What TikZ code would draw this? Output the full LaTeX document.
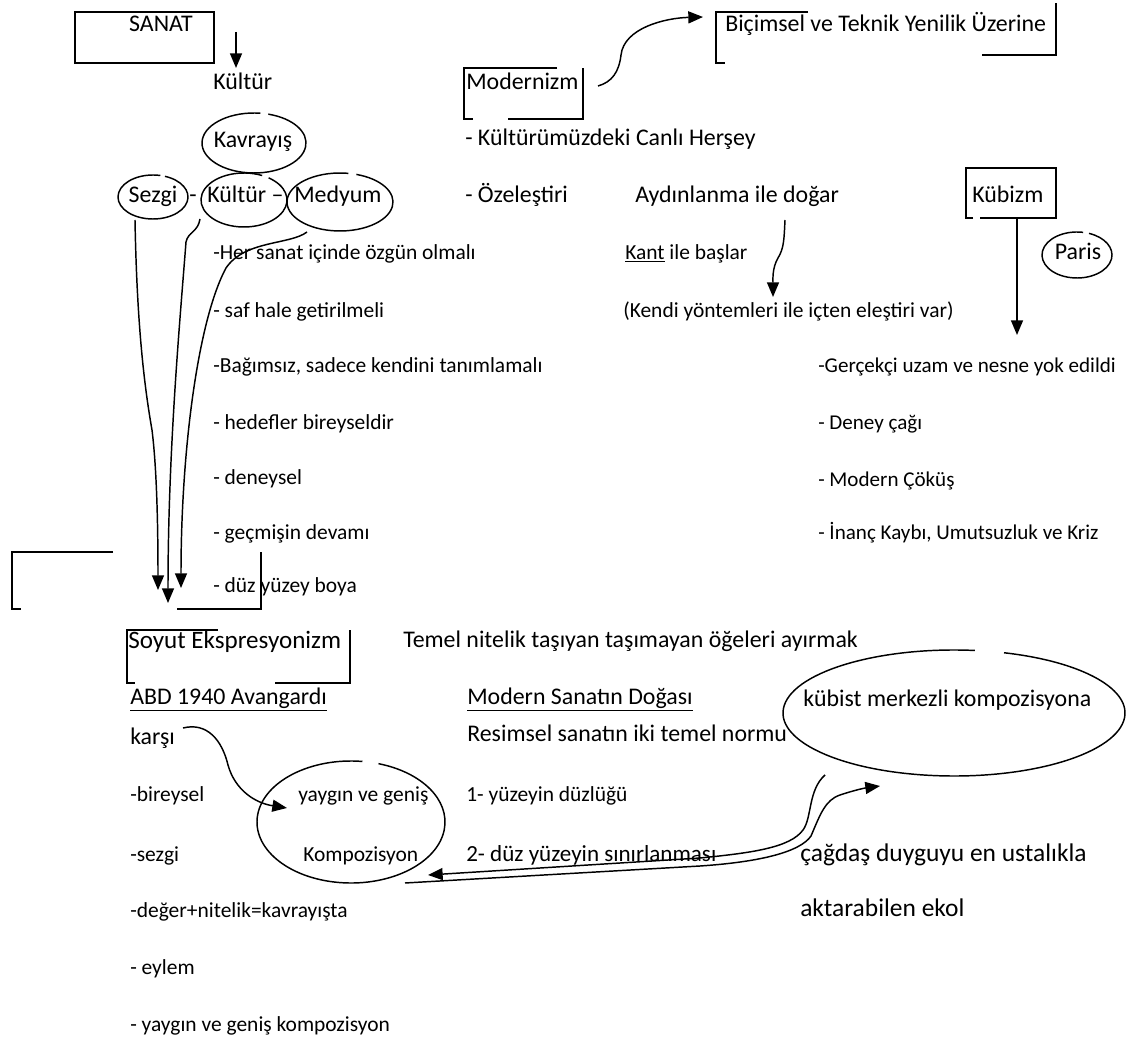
\documentclass[tikz,border=0pt]{standalone}
\usepackage{fontspec}
\setmainfont{Carlito}
\usetikzlibrary{arrows.meta,shapes.geometric}
\newcommand\gapell[5]{%
  \draw[ln] (#1) ++(#5:{#2*0.75pt} and {#3*0.75pt}) arc[start angle=#5, end angle={#4+360}, x radius={#2*0.75pt}, y radius={#3*0.75pt}];}
\begin{document}
\begin{tikzpicture}[x=0.75pt,y=-0.75pt,
  txt/.style={anchor=west, inner sep=0pt, text height=0.75em, text depth=0.1em, font=\fontsize{16.1}{19}\selectfont},
  small/.style={txt, font=\fontsize{15.8}{19}\selectfont},
  big/.style={txt, font=\fontsize{17.9}{21}\selectfont},
  huge/.style={txt, font=\fontsize{18.8}{22}\selectfont},
  ctr/.style={anchor=center},
  ln/.style={line width=1.1pt, black},
  arr/.style={ln, -{Triangle[length=11pt,width=9pt]}},
]
\useasboundingbox (0,0) rectangle (1128,1044);

% ---------- texts ----------
\node[big,ctr] (sanat) at (161,27) {SANAT};
\node[big] (kultur) at (213,85) {Kültür};
\node[big] (modernizm) at (466,85) {Modernizm};
\node[big] (bicimsel) at (725,27) {Biçimsel ve Teknik Yenilik Üzerine};
\node[big,ctr] (kavrayis) at (253,143) {Kavrayış};
\node[big] (canli) at (465,141) {- Kültürümüzdeki Canlı Herşey};
\node[big,ctr] (sezgi) at (153,198) {Sezgi};
\node[big] (dash) at (189,198) {-};
\node[big] (kultur2) at (207,198) {Kültür –};
\node[big] (medyum) at (294,198) {Medyum};
\node[big] (ozel) at (465,198) {- Özeleştiri};
\node[big] (aydin) at (635,198) {Aydınlanma ile doğar};
\node[big] (kubizm) at (972,198) {Kübizm};
\node[txt] (her) at (213,255) {-Her sanat içinde özgün olmalı};
\node[txt] (kant) at (625,255) {\underline{Kant} ile başlar};
\node[big,ctr] (paris) at (1078,255) {Paris};
\node[txt] (saf) at (213,313) {- saf hale getirilmeli};
\node[txt] (kendi) at (623,313) {(Kendi yöntemleri ile içten eleştiri var)};
\node[txt] (bagimsiz) at (213,368) {-Bağımsız, sadece kendini tanımlamalı};
\node[small] (gercekci) at (818,368) {-Gerçekçi uzam ve nesne yok edildi};
\node[txt] (hedefler) at (213,425) {- hedefler bireyseldir};
\node[small] (deney) at (818,425) {- Deney çağı};
\node[txt] (deneysel) at (213,480) {- deneysel};
\node[small] (cokus) at (818,482) {- Modern Çöküş};
\node[txt] (gecmis) at (213,535) {- geçmişin devamı};
\node[small] (inanc) at (818,535) {- İnanç Kaybı, Umutsuzluk ve Kriz};
\node[txt] (duz) at (213,588) {- düz yüzey boya};
\node[huge] (soyut) at (128,644) {Soyut Ekspresyonizm};
\node[big] (temel) at (403,643) {Temel nitelik taşıyan taşımayan öğeleri ayırmak};
\node[big] (abd) at (130,700) {\underline{ABD 1940 Avangardı}};
\node[big] (doga) at (467,700) {\underline{Modern Sanatın Doğası}};
\node[big] (kubist) at (803,702) {kübist merkezli kompozisyona};
\node[big] (karsi) at (130,740) {karşı};
\node[big] (resimsel) at (467,737) {Resimsel sanatın iki temel normu};
\node[txt] (bireysel) at (130,797) {-bireysel};
\node[txt] (yaygin) at (298,797) {yaygın ve geniş};
\node[txt] (bir) at (466,797) {1- yüzeyin düzlüğü};
\node[txt] (sezgi2) at (130,857) {-sezgi};
\node[txt] (kompoz) at (303,857) {Kompozisyon};
\node[txt, font=\fontsize{17.3}{20}\selectfont] (iki) at (466,857) {2- düz yüzeyin sınırlanması};
\node[txt, font=\fontsize{19.1}{22}\selectfont] (cagdas) at (800,857) {çağdaş duyguyu en ustalıkla};
\node[txt, font=\fontsize{19.1}{22}\selectfont] (aktar) at (800,912) {aktarabilen ekol};
\node[txt] (deger) at (130,913) {-değer+nitelik=kavrayışta};
\node[txt] (eylem) at (130,970) {- eylem};
\node[txt] (yaygin2) at (130,1027) {- yaygın ve geniş kompozisyon};

% ---------- ellipse centres ----------
\coordinate (kavE) at (254,143);
\coordinate (sezE) at (153,197);
\coordinate (kulE) at (244,200);
\coordinate (medE) at (340,202);
\coordinate (parE) at (1077,255);
\coordinate (komE) at (351,822);
\coordinate (kubE) at (954,713);
\gapell{kavE}{52}{30}{74}{83}
\gapell{sezE}{35}{22}{70}{78}
\gapell{kulE}{43}{27}{55}{65}
\gapell{medE}{53}{29}{72}{81}
\gapell{parE}{35}{23}{70}{80}
\gapell{komE}{94}{61}{73}{83}
\gapell{kubE}{171}{63}{73}{83}

% ---------- boxes ----------
\draw[ln] (75,12) rectangle (214,63);
\draw[ln] (557,68) -- (464,68) -- (464,119) -- (473,119);
\draw[ln] (508,119) -- (583,119) -- (583,68);
\draw[ln] (808,12) -- (716,12) -- (716,63) -- (725,63);
\draw[ln] (982,55) -- (1056,55) -- (1056,3);
\draw[ln] (973,218) -- (966,218) -- (966,168) -- (1056,168) -- (1056,218) -- (980,218);
\draw[ln] (113,552) -- (12,552) -- (12,609) -- (21,609);
\draw[ln] (177,609) -- (261,609) -- (261,552);
\draw[ln] (218,630) -- (127,630) -- (127,683) -- (135,683);
\draw[ln] (275,683) -- (350,683) -- (350,630);

% ---------- connector end points ----------
\coordinate (sanatOut) at (236,32);
\coordinate (kulturIn) at (236,68);
\coordinate (modOut) at (598,86);
\coordinate (bicIn) at (703,17);
\coordinate (aydOut) at (785,220);
\coordinate (kendiIn) at (773,297);
\coordinate (kubOut) at (1017,218);
\coordinate (gerIn) at (1017,335);
\coordinate (sezOut) at (135,220);
\coordinate (kulOut) at (200,219);
\coordinate (medOut) at (307,232);
\coordinate (soy1) at (158,590);
\coordinate (soy2) at (168,603);
\coordinate (soy3) at (181,588);
\coordinate (karsiOut) at (183,728);
\coordinate (komIn) at (287,808);
\coordinate (kubOutB) at (825,775);
\coordinate (komInB) at (428,875);
\coordinate (komOutB) at (405,883);
\coordinate (kubInB) at (880,786);

% ---------- connectors ----------
\draw[arr] (sanatOut) -- (kulturIn);
\draw[arr] (modOut) .. controls (612,82) and (619,72) .. (621,55)
  .. controls (624,28) and (665,18) .. (bicIn);
\draw[arr] (aydOut) .. controls (784,240) and (784,248) .. (778,258)
  .. controls (772,268) and (773,280) .. (kendiIn);
\draw[arr] (kubOut) -- (gerIn);
\draw[arr] (sezOut) .. controls (137,330) and (145,390) .. (152,430)
  .. controls (157,470) and (158,530) .. (soy1);
\draw[arr] (kulOut) .. controls (198,232) and (188,232) .. (186,242)
  .. controls (180,320) and (168,450) .. (soy2);
\draw[arr] (medOut) .. controls (290,245) and (245,240) .. (226,268)
  .. controls (198,320) and (181,450) .. (soy3);
\draw[arr] (karsiOut) .. controls (207,722) and (222,740) .. (228,765)
  .. controls (235,790) and (255,803) .. (komIn);
\draw[arr] (kubOutB) .. controls (808,790) and (812,818) .. (803,830)
  .. controls (790,848) and (750,853) .. (700,858) -- (komInB);
\draw[arr] (komOutB) -- (700,866) .. controls (760,862) and (800,852) .. (811,836)
  .. controls (820,815) and (825,800) .. (840,795)
  .. controls (855,790) and (865,788) .. (kubInB);
\end{tikzpicture}
\end{document}
